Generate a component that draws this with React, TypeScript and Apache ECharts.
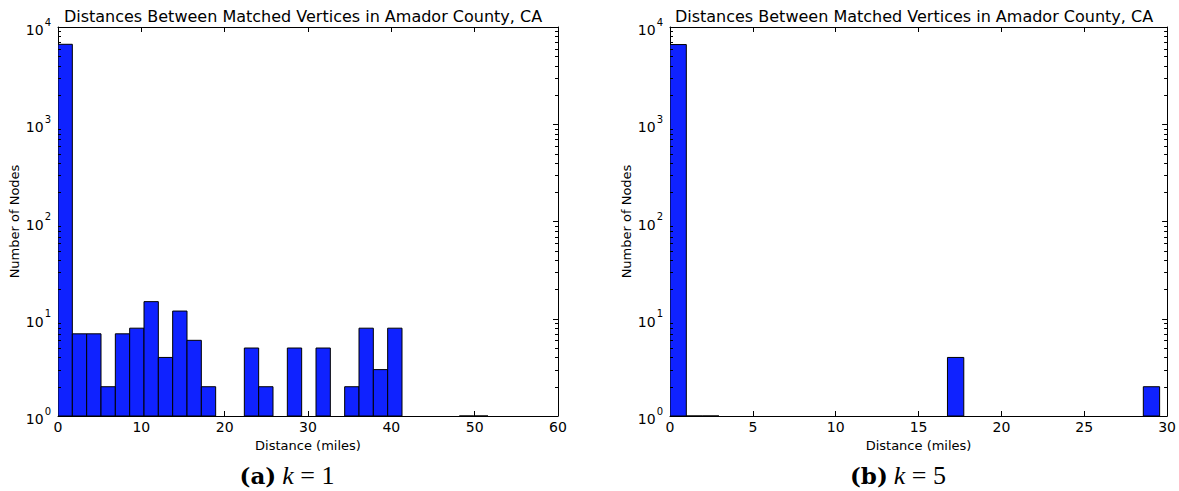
import React, { useEffect, useRef } from "react";
import * as echarts from "echarts";

// ---- data ----
const titleText = "Distances Between Matched Vertices in Amador County, CA";
const xAxisName = "Distance (miles)";
const yAxisName = "Number of Nodes";

// left histogram (k = 1): 30 bins
const leftBinWidth = 1.72;
const leftCounts = [
  6640, 7, 7, 2, 7, 8, 15, 4, 12, 6,
  2, 0, 0, 5, 2, 0, 5, 0, 5, 0,
  2, 8, 3, 8, 0, 0, 0, 0, 1, 1,
];
const leftXMax = 60;
const leftXInterval = 10;

// right histogram (k = 5): 30 bins
const rightBinWidth = 0.985;
const rightCounts = [
  6600, 1, 1, 0, 0, 0, 0, 0, 0, 0,
  0, 0, 0, 0, 0, 0, 0, 4, 0, 0,
  0, 0, 0, 0, 0, 0, 0, 0, 0, 2,
];
const rightXMax = 30;
const rightXInterval = 5;

const yMin = 1;
const yMax = 10000;
const minorMultipliers = [2, 3, 4, 5, 6, 7, 8, 9];
const decades = [1, 10, 100, 1000];

const captionLeft = "{b|(a)}{s|  }{i|k}{n| = 1}";
const captionRight = "{b|(b)}{s|  }{i|k}{n| = 5}";

const BAR_COLOR = "#0f22ff";
const FONT = "DejaVu Sans";

function buildBins(counts: number[], w: number) {
  return counts
    .map((c, i) => [i * w, (i + 1) * w, c])
    .filter((d) => d[2] >= 1);
}

const minorValues: number[] = [];
decades.forEach((d) => minorMultipliers.forEach((m) => minorValues.push(d * m)));

export default function App() {
  const ref = useRef<HTMLDivElement>(null);
  useEffect(() => {
    document.body.style.margin = "0";
    const chart = echarts.init(ref.current!, null, { renderer: "svg" });

    const grids = [
      { left: 58, top: 27, width: 500, height: 389 },
      { left: 670, top: 27, width: 498, height: 389 },
    ];

    const supRich = {
      base: { fontSize: 14, fontFamily: FONT, color: "#000", lineHeight: 20, verticalAlign: "bottom" },
      sup: { fontSize: 10, fontFamily: FONT, color: "#000", lineHeight: 20, verticalAlign: "top", padding: [0, 0, 0, 1] },
    };

    const xAxisFor = (gi: number, max: number, interval: number, top: boolean) => ({
      type: "value",
      gridIndex: gi,
      min: 0,
      max,
      interval,
      position: top ? "top" : "bottom",
      axisLine: { show: true, onZero: false, lineStyle: { color: "#000", width: 1 } },
      axisTick: { show: true, inside: true, length: 5, lineStyle: { color: "#000" } },
      axisLabel: top
        ? { show: false }
        : { show: true, fontSize: 14, fontFamily: FONT, color: "#000", margin: 4 },
      splitLine: { show: false },
      name: top ? "" : xAxisName,
      nameLocation: "middle",
      nameGap: 18,
      nameTextStyle: { fontSize: 13, fontFamily: FONT, color: "#000" },
    });

    const yAxisFor = (gi: number, right: boolean) => ({
      type: "log",
      logBase: 10,
      gridIndex: gi,
      min: yMin,
      max: yMax,
      position: right ? "right" : "left",
      axisLine: { show: true, onZero: false, lineStyle: { color: "#000", width: 1 } },
      axisTick: { show: true, inside: true, length: 5, lineStyle: { color: "#000" } },
      axisLabel: right
        ? { show: false }
        : {
            show: true,
            margin: 7,
            formatter: (v: number) => "{base|10}{sup|" + Math.round(Math.log10(v)) + "}",
            rich: supRich,
          },
      splitLine: { show: false },
      name: right ? "" : yAxisName,
      nameLocation: "middle",
      nameGap: 37,
      nameRotate: 90,
      nameTextStyle: { fontSize: 13, fontFamily: FONT, color: "#000" },
    });

    const histRender = (params: any, api: any) => {
      const x0 = api.value(0);
      const x1 = api.value(1);
      const c = api.value(2);
      const p0 = api.coord([x0, c]);
      const p1 = api.coord([x1, yMin]);
      return {
        type: "rect",
        shape: { x: p0[0], y: p0[1], width: p1[0] - p0[0], height: p1[1] - p0[1] },
        style: { fill: BAR_COLOR, stroke: "#000", lineWidth: 1 },
      };
    };

    const minorRender = (params: any, api: any) => {
      const cs = params.coordSys;
      const v = api.value(1);
      const p = api.coord([0, v]);
      const y = Math.round(p[1]) + 0.5;
      return {
        type: "group",
        children: [
          { type: "line", shape: { x1: cs.x, y1: y, x2: cs.x + 3, y2: y }, style: { stroke: "#000", lineWidth: 1 } },
          { type: "line", shape: { x1: cs.x + cs.width - 3, y1: y, x2: cs.x + cs.width, y2: y }, style: { stroke: "#000", lineWidth: 1 } },
        ],
      };
    };

    const minorData = minorValues.map((v) => [0, v]);

    const titleStyle = {
      text: titleText,
      fill: "#000",
      fontSize: 16,
      fontFamily: FONT,
      align: "center",
      verticalAlign: "middle",
      textAlign: "center",
      textVerticalAlign: "middle",
    };

    const option: any = {
      animation: false,
      backgroundColor: "#fff",
      grid: grids,
      xAxis: [
        xAxisFor(0, leftXMax, leftXInterval, false),
        xAxisFor(0, leftXMax, leftXInterval, true),
        xAxisFor(1, rightXMax, rightXInterval, false),
        xAxisFor(1, rightXMax, rightXInterval, true),
      ],
      yAxis: [yAxisFor(0, false), yAxisFor(0, true), yAxisFor(1, false), yAxisFor(1, true)],
      series: [
        {
          type: "custom",
          xAxisIndex: 0,
          yAxisIndex: 0,
          data: buildBins(leftCounts, leftBinWidth),
          encode: { x: [0, 1], y: 2 },
          renderItem: histRender,
          clip: true,
          silent: true,
        },
        {
          type: "custom",
          xAxisIndex: 2,
          yAxisIndex: 2,
          data: buildBins(rightCounts, rightBinWidth),
          encode: { x: [0, 1], y: 2 },
          renderItem: histRender,
          clip: true,
          silent: true,
        },
        {
          type: "custom",
          xAxisIndex: 0,
          yAxisIndex: 0,
          data: minorData,
          encode: { x: 0, y: 1 },
          renderItem: minorRender,
          silent: true,
          z: 5,
        },
        {
          type: "custom",
          xAxisIndex: 2,
          yAxisIndex: 2,
          data: minorData,
          encode: { x: 0, y: 1 },
          renderItem: minorRender,
          silent: true,
          z: 5,
        },
      ],
      graphic: [
        { type: "text", x: 303, y: 16, style: titleStyle },
        { type: "text", x: 914, y: 16, style: titleStyle },
        ...[
          { x: 287, text: captionLeft },
          { x: 898, text: captionRight },
        ].map((c) => ({
          type: "text",
          x: c.x,
          y: 475,
          style: {
            text: c.text,
            fill: "#000",
            align: "center",
            verticalAlign: "middle",
            textAlign: "center",
            textVerticalAlign: "middle",
            rich: {
              b: { fontSize: 23, fontWeight: "bold", fontFamily: "DejaVu Serif", fill: "#000", color: "#000" },
              s: { fontSize: 12, fontFamily: "Liberation Serif" },
              i: { fontSize: 26, fontStyle: "italic", fontFamily: "Liberation Serif", fill: "#000", color: "#000" },
              n: { fontSize: 26, fontFamily: "Liberation Serif", fill: "#000", color: "#000" },
            },
          },
        })),
      ],
    };

    chart.setOption(option);
    return () => chart.dispose();
  }, []);

  return (
    <div
      ref={ref}
      style={{ position: "absolute", left: 0, top: 0, width: 1179, height: 491 }}
    />
  );
}
